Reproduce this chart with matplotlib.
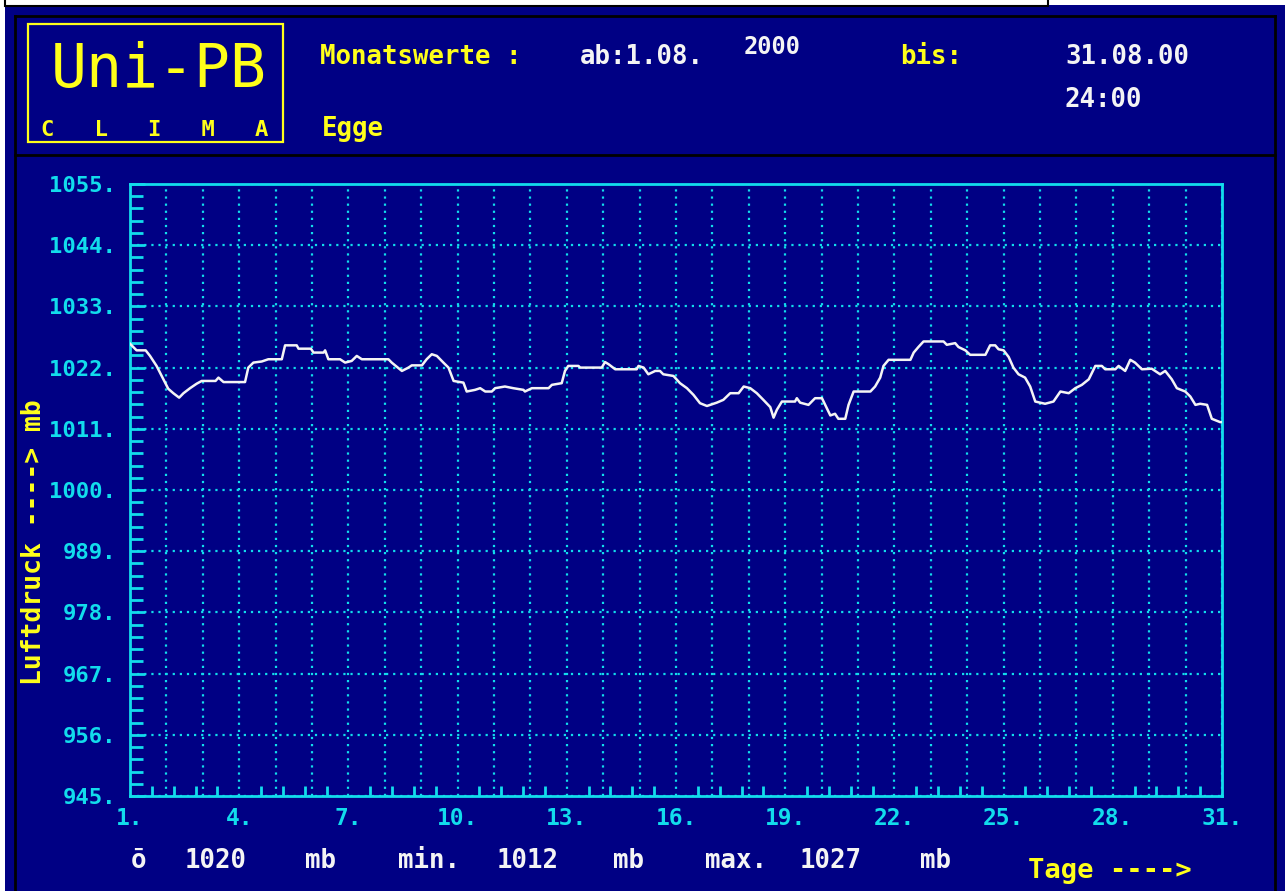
import numpy as np
import matplotlib
matplotlib.use("Agg")
import matplotlib.pyplot as plt
from matplotlib.patches import Rectangle
from matplotlib.lines import Line2D
from matplotlib.ticker import FixedLocator, FuncFormatter

# ---------------- data ----------------
days = [1.0, 1.18, 1.43, 1.55, 1.73, 1.87, 2.05, 2.19, 2.35, 2.47, 2.65, 2.83, 2.97,
        3.35, 3.43, 3.57, 4.16, 4.25, 4.39, 4.62, 4.80, 5.17, 5.26, 5.58, 5.63, 5.97,
        6.04, 6.32, 6.36, 6.45, 6.77, 6.91, 7.09, 7.23, 7.37, 8.10, 8.19, 8.47, 8.65,
        8.74, 9.02, 9.15, 9.29, 9.43, 9.61, 9.75, 9.89, 10.16, 10.25, 10.48, 10.62,
        10.76, 10.94, 11.03, 11.30, 11.53, 11.81, 11.85, 12.04, 12.50, 12.59, 12.86,
        12.95, 13.04, 13.32, 13.37, 13.96, 14.05, 14.15, 14.33, 14.92, 14.97, 15.11,
        15.24, 15.43, 15.56, 15.65, 15.93, 16.11, 16.30, 16.48, 16.66, 16.85, 17.12,
        17.30, 17.49, 17.72, 17.86, 18.04, 18.22, 18.40, 18.59, 18.68, 18.77, 18.91,
        19.27, 19.32, 19.41, 19.64, 19.82, 20.01, 20.10, 20.24, 20.37, 20.46, 20.65,
        20.74, 20.88, 21.34, 21.47, 21.61, 21.70, 21.84, 22.44, 22.53, 22.66, 22.80,
        23.35, 23.44, 23.67, 23.76, 23.95, 24.08, 24.50, 24.63, 24.77, 24.86, 25.00,
        25.14, 25.27, 25.41, 25.59, 25.73, 25.87, 26.14, 26.37, 26.56, 26.79, 26.97,
        27.15, 27.34, 27.52, 27.70, 27.79, 28.07, 28.16, 28.34, 28.48, 28.61, 28.80,
        29.07, 29.30, 29.44, 29.62, 29.76, 29.99, 30.13, 30.27, 30.40, 30.59, 30.72,
        30.95, 31.0]
pressure = [1026.3, 1025.1, 1025.1, 1024.1, 1022.3, 1020.5, 1018.2, 1017.4, 1016.6,
            1017.4, 1018.3, 1019.1, 1019.6, 1019.6, 1020.2, 1019.4, 1019.4, 1022.0,
            1022.9, 1023.1, 1023.5, 1023.5, 1026.0, 1026.0, 1025.4, 1025.4, 1024.7,
            1024.7, 1025.1, 1023.5, 1023.5, 1022.9, 1023.2, 1024.1, 1023.5, 1023.5,
            1022.9, 1021.4, 1022.0, 1022.4, 1022.4, 1023.5, 1024.4, 1024.1, 1022.9,
            1022.0, 1019.6, 1019.3, 1017.7, 1018.0, 1018.3, 1017.7, 1017.7, 1018.3,
            1018.6, 1018.3, 1018.0, 1017.7, 1018.3, 1018.3, 1018.9, 1019.2, 1021.4,
            1022.3, 1022.3, 1022.0, 1022.0, 1023.0, 1022.6, 1021.7, 1021.7, 1022.3,
            1022.0, 1020.8, 1021.4, 1021.4, 1020.8, 1020.5, 1019.2, 1018.3, 1017.1,
            1015.6, 1015.1, 1015.7, 1016.2, 1017.4, 1017.4, 1018.6, 1018.3, 1017.4,
            1016.2, 1014.9, 1013.0, 1014.4, 1015.9, 1015.9, 1016.5, 1015.7, 1015.3,
            1016.5, 1016.5, 1015.3, 1013.4, 1013.7, 1012.8, 1012.8, 1015.3, 1017.7,
            1017.7, 1018.6, 1020.2, 1022.3, 1023.4, 1023.4, 1024.7, 1025.7, 1026.7,
            1026.7, 1026.1, 1026.4, 1025.7, 1025.1, 1024.3, 1024.3, 1026.0, 1026.0,
            1025.3, 1025.1, 1023.9, 1022.0, 1020.8, 1020.2, 1018.6, 1015.9, 1015.5,
            1015.9, 1017.7, 1017.4, 1018.3, 1018.9, 1019.9, 1022.3, 1022.3, 1021.7,
            1021.7, 1022.3, 1021.4, 1023.4, 1022.9, 1021.7, 1021.8, 1020.8, 1021.4,
            1019.9, 1018.3, 1017.7, 1016.8, 1015.3, 1015.5, 1015.3, 1012.8, 1012.2,
            1012.2]

y_ticks = [945, 956, 967, 978, 989, 1000, 1011, 1022, 1033, 1044, 1055]
x_tick_days = [1, 4, 7, 10, 13, 16, 19, 22, 25, 28, 31]

stat_mean = "1020"
stat_min = "1012"
stat_max = "1027"

# ---------------- style ----------------
W, H = 1285, 891
NAVY = "#000084"
CYAN = "#12dcec"
YEL = "#ffff1a"
WHITE = "#f4f4f4"
MONO = "DejaVu Sans Mono"
HS = 18.5  # header / footer text size

fig = plt.figure(figsize=(W / 100, H / 100), dpi=100, facecolor=NAVY)


def fx(x):
    return x / W


def fy(y):
    return 1 - y / H


def rect(x0, y0, x1, y1, **kw):
    r = Rectangle((fx(x0), fy(y1)), fx(x1) - fx(x0), fy(y0) - fy(y1),
                  transform=fig.transFigure, **kw)
    fig.add_artist(r)


def line(xs, ys, **kw):
    fig.add_artist(Line2D([fx(x) for x in xs], [fy(y) for y in ys],
                          transform=fig.transFigure, **kw))


def txt(x, y, s, color, size, ha="left", va="center", weight="bold", **kw):
    fig.text(fx(x), fy(y), s, color=color, fontsize=size, ha=ha, va=va,
             family=MONO, fontweight=weight, **kw)


# white margins at top / left
rect(0, 0, W, 5, facecolor="white", edgecolor="none")
rect(0, 0, 5, H, facecolor="white", edgecolor="none")
rect(5, -3, 1048, 6, facecolor="white", edgecolor="black", linewidth=1.5)

# black frame lines
line([15, 1275], [16, 16], color="black", linewidth=2)
line([15, 1275], [155, 155], color="black", linewidth=2)
line([15, 15], [16, H], color="black", linewidth=2)
line([1275, 1275], [16, H], color="black", linewidth=2)

# logo box
rect(28, 24, 283, 142, facecolor="none", edgecolor=YEL, linewidth=1.6)
txt(159, 70, "Uni-PB", YEL, 43, ha="center", weight="normal")
txt(155, 130, "C   L   I   M   A", YEL, 16, ha="center")

# header texts
txt(320, 57, "Monatswerte :", YEL, HS)
txt(580, 57, "ab:1.08.", WHITE, HS)
txt(744, 47, "2000", WHITE, 17)
txt(900, 57, "bis:", YEL, HS)
txt(1065, 57, "31.08.00", WHITE, HS)
txt(1065, 100, "24:00", WHITE, HS)
txt(322, 129, "Egge", YEL, HS)

# footer texts
txt(131, 861, "ō", WHITE, HS)
txt(185, 861, stat_mean, WHITE, HS)
txt(305, 861, "mb", WHITE, HS)
txt(398, 861, "min.", WHITE, HS)
txt(497, 861, stat_min, WHITE, HS)
txt(613, 861, "mb", WHITE, HS)
txt(705, 861, "max.", WHITE, HS)
txt(800, 861, stat_max, WHITE, HS)
txt(920, 861, "mb", WHITE, HS)
txt(1028, 871, "Tage ---->", YEL, 19.5)

# ---------------- axes ----------------
ax_l, ax_r, ax_t, ax_b = 130, 1222, 184, 796
ax = fig.add_axes([fx(ax_l), fy(ax_b), fx(ax_r) - fx(ax_l), fy(ax_t) - fy(ax_b)])
ax.set_facecolor(NAVY)
ax.set_xlim(1, 31)
ax.set_ylim(945, 1055)

for s in ax.spines.values():
    s.set_color(CYAN)
    s.set_linewidth(2)

# y ticks
ax.yaxis.set_major_locator(FixedLocator(y_ticks))
ax.yaxis.set_minor_locator(FixedLocator(list(np.arange(945, 1055.01, 2.2))))
ax.yaxis.set_major_formatter(FuncFormatter(lambda v, p: f"{int(round(v))}."))
ax.tick_params(axis="y", which="major", direction="in", length=11, width=2,
               color=CYAN, labelcolor=CYAN, labelsize=16, pad=10)
ax.tick_params(axis="y", which="minor", direction="in", length=9, width=2, color=CYAN)

# x ticks: gridlines every day, labels every 3 days, minor ticks every 0.6 day
ax.xaxis.set_major_locator(FixedLocator(list(range(1, 32))))
ax.xaxis.set_major_formatter(
    FuncFormatter(lambda v, p: f"{int(round(v))}." if int(round(v)) in x_tick_days else ""))
ax.xaxis.set_minor_locator(FixedLocator(list(np.arange(1, 31.01, 0.6))))
ax.tick_params(axis="x", which="major", direction="in", length=0,
               labelcolor=CYAN, labelsize=16.5, pad=8)
ax.tick_params(axis="x", which="minor", direction="in", length=7, width=2, color=CYAN)

for lab in ax.get_xticklabels() + ax.get_yticklabels():
    lab.set_family(MONO)
    lab.set_fontweight("bold")
for lab in ax.get_yticklabels():
    lab.set_verticalalignment("center_baseline")

ax.grid(True, which="major", color=CYAN, linewidth=1.6, linestyle=(0, (1, 2.2)))
ax.set_axisbelow(True)

ax.plot(days, pressure, color=WHITE, linewidth=1.8, zorder=3)

# rotated y label
txt(34, 542, "Luftdruck ----> mb", YEL, 19, ha="center", rotation=90)

fig.savefig("out.png", dpi=100, facecolor=NAVY)
